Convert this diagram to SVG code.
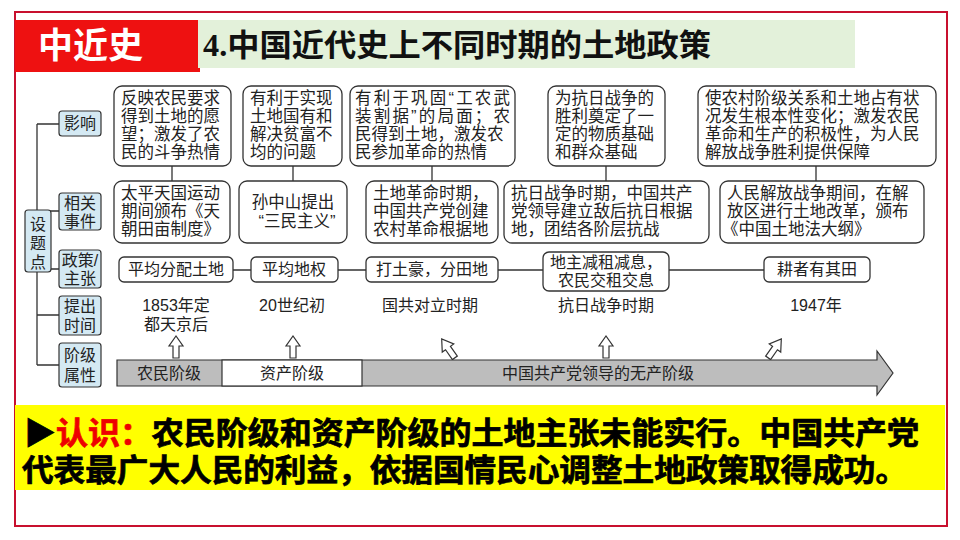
<svg xmlns="http://www.w3.org/2000/svg" width="960" height="540" viewBox="0 0 960 540">
<style>
text{font-family:"Liberation Sans","Noto Sans CJK SC",sans-serif;fill:#222}
.b{fill:#fff;stroke:#333;stroke-width:1.3}
.l{fill:#d4e9f3;stroke:#333;stroke-width:1.2}
.t{font-size:16.5px}
.s{font-size:16px}
.ln{stroke:#333;stroke-width:1.3;fill:none}
.ar{fill:#fff;stroke:#333;stroke-width:1.2}
.bn{font-size:31px;font-weight:bold;fill:#000;stroke:#000;stroke-width:0.7}
</style>
<rect width="960" height="540" fill="#fff"/>
<rect x="15" y="12" width="932" height="514" fill="none" stroke="#c8102e" stroke-width="2"/>
<g id="title">
<rect x="15" y="20" width="185" height="52" fill="#ee1111"/>
<text x="38" y="58" style="font-size:35px;font-weight:bold;fill:#fff">中近史</text>
<rect x="198" y="20" width="657" height="48" fill="#e3f1da"/>
<text x="203" y="56" textLength="508" lengthAdjust="spacingAndGlyphs" style="font-size:31px;font-weight:bold;fill:#111;font-family:'Liberation Serif','Noto Sans CJK SC',serif">4.中国近代史上不同时期的土地政策</text>
</g>
<g id="connectors">
<path class="ln" d="M37 124V365M37 124H59M37 211H59M37 269H59M37 315H59M37 365H59M25 240H37"/>
<path class="ln" d="M172 166V181M293 166V181M432 166V181M606 166V181M816 166V181M233 270H251M338 270H366M498 270H543M669 270H764"/>
</g>
<g id="left">
<rect class="l" x="25" y="210" width="26" height="62" rx="3"/>
<text x="38" y="230" class="s" text-anchor="middle">设</text>
<text x="38" y="249" class="s" text-anchor="middle">题</text>
<text x="38" y="268" class="s" text-anchor="middle">点</text>
<rect class="l" x="59" y="111" width="42" height="25" rx="3"/>
<text x="80" y="129" class="s" text-anchor="middle">影响</text>
<rect class="l" x="59" y="193" width="42" height="37" rx="3"/>
<text x="80" y="209" class="s" text-anchor="middle">相关</text>
<text x="80" y="227" class="s" text-anchor="middle">事件</text>
<rect class="l" x="59" y="250" width="42" height="38" rx="3"/>
<text x="80" y="266" class="s" text-anchor="middle">政策/</text>
<text x="80" y="284" class="s" text-anchor="middle">主张</text>
<rect class="l" x="59" y="296" width="42" height="39" rx="3"/>
<text x="80" y="312" class="s" text-anchor="middle">提出</text>
<text x="80" y="331" class="s" text-anchor="middle">时间</text>
<rect class="l" x="59" y="343" width="42" height="44" rx="3"/>
<text x="80" y="361" class="s" text-anchor="middle">阶级</text>
<text x="80" y="381" class="s" text-anchor="middle">属性</text>
</g>
<g id="impact1"><rect class="b" x="114" y="86" width="117" height="80" rx="8"/>
<text class="t" x="121" y="104">反映农民要求</text><text class="t" x="121" y="122">得到土地的愿</text><text class="t" x="121" y="140">望；激发了农</text><text class="t" x="121" y="158">民的斗争热情</text></g>
<g id="impact2"><rect class="b" x="243" y="86" width="99" height="80" rx="8"/>
<text class="t" x="250" y="104">有利于实现</text><text class="t" x="250" y="122">土地国有和</text><text class="t" x="250" y="140">解决贫富不</text><text class="t" x="250" y="158">均的问题</text></g>
<g id="impact3"><rect class="b" x="350" y="86" width="165" height="80" rx="8"/>
<text class="t" x="355" y="104" textLength="155">有利于巩固“工农武</text><text class="t" x="355" y="122" textLength="155">装割据”的局面；农</text><text class="t" x="355" y="140">民得到土地，激发农</text><text class="t" x="355" y="158">民参加革命的热情</text></g>
<g id="impact4"><rect class="b" x="548" y="86" width="117" height="80" rx="8"/>
<text class="t" x="555" y="104">为抗日战争的</text><text class="t" x="555" y="122">胜利奠定了一</text><text class="t" x="555" y="140">定的物质基础</text><text class="t" x="555" y="158">和群众基础</text></g>
<g id="impact5"><rect class="b" x="698" y="86" width="238" height="80" rx="8"/>
<text class="t" x="705" y="104">使农村阶级关系和土地占有状</text><text class="t" x="705" y="122">况发生根本性变化；激发农民</text><text class="t" x="705" y="140">革命和生产的积极性，为人民</text><text class="t" x="705" y="158">解放战争胜利提供保障</text></g>
<g id="event1"><rect class="b" x="114" y="181" width="116" height="62" rx="8"/>
<text class="t" x="121" y="199">太平天国运动</text><text class="t" x="121" y="217">期间颁布《天</text><text class="t" x="121" y="235">朝田亩制度》</text></g>
<g id="event2"><rect class="b" x="239" y="181" width="108" height="62" rx="8"/>
<text class="t" x="293" y="208" text-anchor="middle">孙中山提出</text><text class="t" x="297" y="227" text-anchor="middle">“三民主义”</text></g>
<g id="event3"><rect class="b" x="366" y="181" width="132" height="62" rx="8"/>
<text class="t" x="373" y="199">土地革命时期，</text><text class="t" x="373" y="217">中国共产党创建</text><text class="t" x="373" y="235">农村革命根据地</text></g>
<g id="event4"><rect class="b" x="504" y="181" width="205" height="62" rx="8"/>
<text class="t" x="511" y="199">抗日战争时期，中国共产</text><text class="t" x="511" y="217">党领导建立敌后抗日根据</text><text class="t" x="511" y="235">地，团结各阶层抗战</text></g>
<g id="event5"><rect class="b" x="720" y="181" width="204" height="62" rx="8"/>
<text class="t" x="727" y="199">人民解放战争期间，在解</text><text class="t" x="727" y="217">放区进行土地改革，颁布</text><text class="t" x="722" y="235">《中国土地法大纲》</text></g>
<g id="policy1"><rect class="b" x="119" y="257" width="114" height="25" rx="5"/><text class="s" x="176" y="275" text-anchor="middle">平均分配土地</text></g>
<g id="policy2"><rect class="b" x="251" y="257" width="87" height="25" rx="5"/><text class="s" x="294" y="275" text-anchor="middle">平均地权</text></g>
<g id="policy3"><rect class="b" x="366" y="257" width="132" height="25" rx="5"/><text class="s" x="432" y="275" text-anchor="middle">打土豪，分田地</text></g>
<g id="policy4"><rect class="b" x="543" y="252" width="126" height="39" rx="6"/><text class="s" x="606" y="268" text-anchor="middle">地主减租减息，</text><text class="s" x="606" y="286" text-anchor="middle">农民交租交息</text></g>
<g id="policy5"><rect class="b" x="764" y="257" width="106" height="25" rx="5"/><text class="s" x="817" y="275" text-anchor="middle">耕者有其田</text></g>
<g id="times">
<text class="s" x="176" y="311" text-anchor="middle">1853年定</text><text class="s" x="176" y="330" text-anchor="middle">都天京后</text>
<text class="s" x="292" y="311" text-anchor="middle">20世纪初</text>
<text class="s" x="430" y="311" text-anchor="middle">国共对立时期</text>
<text class="s" x="606" y="311" text-anchor="middle">抗日战争时期</text>
<text class="s" x="816" y="311" text-anchor="middle">1947年</text>
</g>
<g id="arrows">
<path class="ar" d="M173 358V346H169L176 336L183 346H179V358Z"/>
<path class="ar" d="M290 358V346H286L293 336L300 346H296V358Z"/>
<path class="ar" d="M603 358V346H599L606 336L613 346H609V358Z"/>
<path class="ar" transform="rotate(-35 448 348)" d="M445 360V348H441L448 337L455 348H451V360Z"/>
<path class="ar" transform="rotate(35 775 348)" d="M772 360V348H768L775 337L782 348H778V360Z"/>
</g>
<g id="classbar">
<path d="M117 360H877V351L893 373L877 395V386H117Z" fill="#bdbdbd" stroke="#333" stroke-width="1.2"/>
<rect x="222" y="360" width="140" height="26" fill="#fff" stroke="#333" stroke-width="1.2"/>
<text class="s" x="169" y="379" text-anchor="middle">农民阶级</text>
<text class="s" x="292" y="379" text-anchor="middle">资产阶级</text>
<text class="s" x="598" y="379" text-anchor="middle">中国共产党领导的无产阶级</text>
</g>
<g id="banner">
<rect x="15" y="405" width="930" height="85" fill="#ffff00"/>
<text x="24" y="444" class="bn" textLength="895" lengthAdjust="spacingAndGlyphs"><tspan>▶</tspan><tspan style="fill:#ee0000;stroke:#ee0000">认识：</tspan><tspan>农民阶级和资产阶级的土地主张未能实行。中国共产党</tspan></text>
<text x="22" y="481" class="bn" textLength="885" lengthAdjust="spacingAndGlyphs">代表最广大人民的利益，依据国情民心调整土地政策取得成功。</text>
</g>
</svg>
